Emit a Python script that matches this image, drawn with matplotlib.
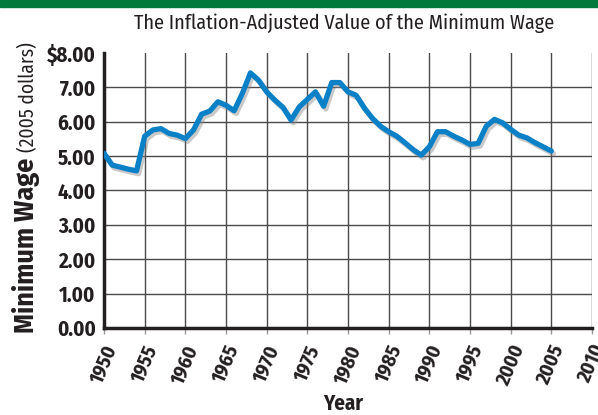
import numpy as np
import matplotlib
matplotlib.use("Agg")
import matplotlib.pyplot as plt
import matplotlib.patheffects as pe
from matplotlib.patches import Rectangle

# data
years = list(range(1950, 2006))
wage = [5.08, 4.74, 4.68, 4.62, 4.57, 5.58, 5.76, 5.80, 5.66, 5.61,
        5.51, 5.76, 6.22, 6.31, 6.58, 6.48, 6.32, 6.82, 7.42, 7.21,
        6.87, 6.63, 6.42, 6.05, 6.43, 6.65, 6.87, 6.45, 7.14, 7.14,
        6.87, 6.77, 6.40, 6.10, 5.87, 5.71, 5.58, 5.39, 5.19, 5.03,
        5.27, 5.71, 5.71, 5.58, 5.47, 5.34, 5.37, 5.87, 6.07, 5.97,
        5.78, 5.61, 5.53, 5.39, 5.27, 5.15]
xticks = list(range(1950, 2011, 5))
yticks = list(range(0, 9))
ylabels = ["0.00", "1.00", "2.00", "3.00", "4.00", "5.00", "6.00", "7.00", "$8.00"]

title = "The Inflation-Adjusted Value of the Minimum Wage"

plt.rcParams['font.family'] = ['Fira Sans Condensed', 'Liberation Sans', 'DejaVu Sans']

fig = plt.figure(figsize=(5.98, 4.15), dpi=100)
ax = fig.add_axes([104 / 598, 87 / 415, 488 / 598, 275 / 415])

# green band at the top
fig.patches.append(Rectangle((0, 1 - 7 / 415), 1, 7 / 415, transform=fig.transFigure,
                             color="#00793d", zorder=0))

ax.plot(years, wage, color="#0a80c6", lw=3.8, solid_capstyle="round",
        solid_joinstyle="round", zorder=3,
        path_effects=[pe.SimpleLineShadow(offset=(1.5, -2), shadow_color="#888888", alpha=0.45),
                      pe.Normal()])

ax.set_xlim(1950, 2010)
ax.set_ylim(0, 8)
ax.set_xticks(xticks)
ax.set_yticks(yticks)
ax.set_yticklabels(ylabels, fontsize=15, fontweight="bold")
ax.set_xticklabels([str(x) for x in xticks], fontsize=14.5, fontweight="bold",
                   rotation=67, ha="center", va="top")
ax.tick_params(axis="y", length=0, pad=6, colors="#231f20")
ax.tick_params(axis="x", length=4, width=1, color="#999999", labelcolor="#231f20", pad=6)

ax.grid(True, color="#4a4a4a", lw=1.0, zorder=1)
ax.yaxis.get_gridlines()[-1].set_visible(False)
ax.set_axisbelow(True)

for s in ["top", "right"]:
    ax.spines[s].set_visible(False)
for s in ["left", "bottom"]:
    ax.spines[s].set_linewidth(2.5)
    ax.spines[s].set_color("#231f20")

fig.text(344 / 598, 1 - 23 / 415, title, fontsize=14.5, ha="center", va="center", color="#231f20")
fig.text(343 / 598, 1 - 404 / 415, "Year", fontsize=15, fontweight="bold",
         ha="center", va="center", color="#231f20")
fig.text(34 / 598, 1 - 333 / 415, "Minimum Wage", fontsize=20, fontweight="bold",
         rotation=90, rotation_mode="anchor", ha="left", va="baseline", color="#231f20")
fig.text(34 / 598, 1 - 152 / 415, "(2005 dollars)", fontsize=14,
         rotation=90, rotation_mode="anchor", ha="left", va="baseline", color="#231f20")

fig.savefig("out.png", dpi=100)
